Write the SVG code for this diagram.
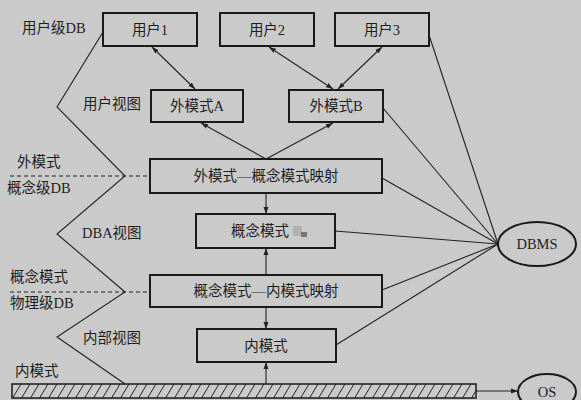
<svg xmlns="http://www.w3.org/2000/svg" width="581" height="400" viewBox="0 0 581 400">
<style>
.bg{fill:#cacaca}
.box{fill:#cacaca;stroke:#1a1a1a;stroke-width:2}
.ln{stroke:#222;stroke-width:1.1;fill:none}
.ar{stroke:#222;stroke-width:1.1;fill:none;marker-end:url(#ah)}
.dar{stroke:#222;stroke-width:1.1;fill:none;marker-end:url(#ah);marker-start:url(#ah)}
.dash{stroke:#222;stroke-width:1;stroke-dasharray:4 3;fill:none}
text{font-family:"Liberation Serif","Noto Sans CJK SC",serif;font-size:14.5px;fill:#1e1e1e;text-anchor:middle;dominant-baseline:central}
.lb{text-anchor:start}
</style>
<defs>
<marker id="ah" viewBox="0 0 10 10" refX="10" refY="5" markerWidth="7" markerHeight="7" markerUnits="userSpaceOnUse" orient="auto-start-reverse">
<path d="M0,1.5 L10,5 L0,8.5 Z" fill="#222"/>
</marker>
<pattern id="hatch" width="9" height="15" patternUnits="userSpaceOnUse" x="12" y="384">
<line x1="0" y1="15" x2="9" y2="0" stroke="#222" stroke-width="1"/>
</pattern>
</defs>
<rect class="bg" x="0" y="0" width="581" height="400"/>

<g id="connectors">
<polyline class="ln" points="103,32 57,107 125,176 57,234 125,292 57,337 125,384"/>
<line class="dash" x1="10" y1="176" x2="150" y2="176"/>
<line class="dash" x1="10" y1="292" x2="150" y2="292"/>
<line class="dar" x1="152" y1="47" x2="195" y2="89"/>
<line class="dar" x1="269" y1="47" x2="333" y2="89"/>
<line class="dar" x1="382" y1="47" x2="338" y2="89"/>
<line class="ar" x1="266" y1="159" x2="201" y2="123"/>
<line class="ar" x1="266" y1="159" x2="333" y2="123"/>
<line class="ar" x1="266" y1="193" x2="266" y2="214"/>
<line class="ar" x1="266" y1="275" x2="266" y2="248"/>
<line class="ar" x1="266" y1="307" x2="266" y2="329"/>
<line class="ar" x1="266" y1="384" x2="266" y2="362"/>
<line class="ar" x1="476" y1="391" x2="518" y2="391"/>
<line class="ln" x1="429" y1="35" x2="498" y2="244"/>
<line class="ln" x1="383" y1="108" x2="498" y2="244"/>
<line class="ln" x1="382" y1="178" x2="498" y2="244"/>
<line class="ln" x1="335" y1="231" x2="498" y2="244"/>
<line class="ln" x1="382" y1="290" x2="498" y2="244"/>
<line class="ln" x1="336" y1="345" x2="498" y2="244"/>
</g>

<g id="labels">
<text class="lb" x="22" y="28">用户级DB</text>
<text class="lb" x="83" y="104">用户视图</text>
<text class="lb" x="17" y="162">外模式</text>
<text class="lb" x="7" y="188">概念级DB</text>
<text class="lb" x="82" y="233">DBA视图</text>
<text class="lb" x="10" y="277">概念模式</text>
<text class="lb" x="10" y="303">物理级DB</text>
<text class="lb" x="83" y="338">内部视图</text>
<text class="lb" x="15" y="371">内模式</text>
</g>

<g id="user1"><rect class="box" x="103" y="13" width="94" height="33"/><text x="150" y="30">用户1</text></g>
<g id="user2"><rect class="box" x="220" y="13" width="94" height="33"/><text x="267" y="30">用户2</text></g>
<g id="user3"><rect class="box" x="335" y="13" width="94" height="33"/><text x="382" y="30">用户3</text></g>
<g id="extA"><rect class="box" x="151" y="90" width="92" height="32"/><text x="197" y="106">外模式A</text></g>
<g id="extB"><rect class="box" x="289" y="90" width="94" height="32"/><text x="336" y="106">外模式B</text></g>
<g id="map1"><rect class="box" x="150" y="159" width="232" height="34"/><text x="266" y="176">外模式—概念模式映射</text></g>
<g id="concept"><rect class="box" x="196" y="214" width="139" height="34"/><text x="260" y="231">概念模式</text>
<rect x="293" y="226" width="9" height="10" fill="#aaa" opacity="0.8"/><rect x="301" y="232" width="6" height="5" fill="#777"/></g>
<g id="map2"><rect class="box" x="150" y="275" width="232" height="32"/><text x="266" y="291">概念模式—内模式映射</text></g>
<g id="internal"><rect class="box" x="197" y="329" width="139" height="33"/><text x="266" y="346">内模式</text></g>
<g id="storage"><rect x="12" y="384" width="464" height="14" fill="url(#hatch)" stroke="#1a1a1a" stroke-width="1.5"/></g>
<g id="dbms"><ellipse cx="537" cy="244" rx="39" ry="22" fill="#cacaca" stroke="#1a1a1a" stroke-width="2"/><text x="537" y="244">DBMS</text></g>
<g id="os"><ellipse cx="547" cy="392" rx="29" ry="18" fill="#cacaca" stroke="#1a1a1a" stroke-width="2"/><text x="547" y="392">OS</text></g>
</svg>
